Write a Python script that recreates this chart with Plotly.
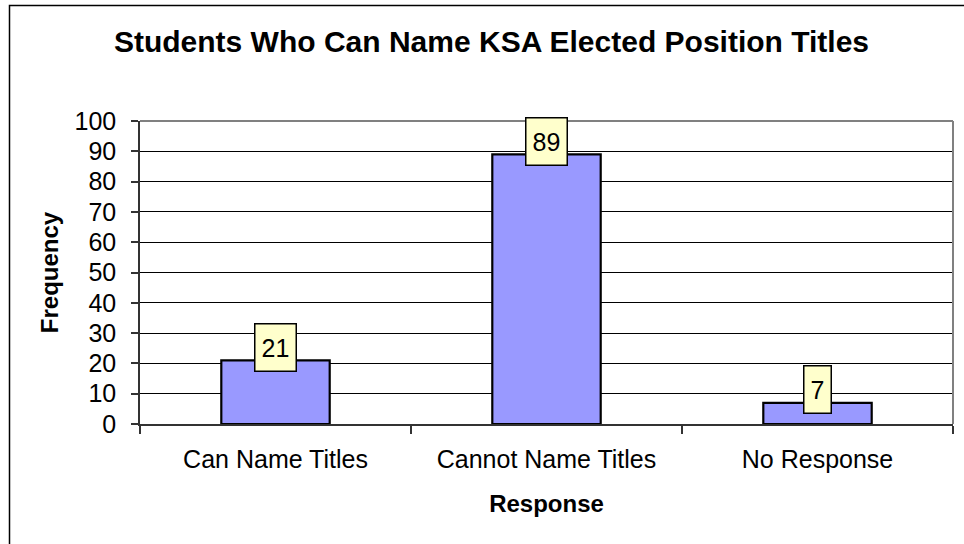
import plotly.graph_objects as go

categories = ["Can Name Titles", "Cannot Name Titles", "No Response"]
frequency = [21, 89, 7]
y_ticks = [0, 10, 20, 30, 40, 50, 60, 70, 80, 90, 100]

FONT = "Liberation Sans, Arial, sans-serif"
W, H = 964, 544
L, R, T, B = 140, 11, 121, 120
pw, ph = W - L - R, H - T - B

fig = go.Figure()
fig.add_trace(go.Bar(
    x=categories, y=frequency, width=0.4,
    marker=dict(color="#9999FF", line=dict(color="black", width=2.2)),
    hoverinfo="x+y",
))

for c, v in zip(categories, frequency):
    s = str(v)
    fig.add_annotation(
        x=c, y=v, xref="x", yref="y", text=s, showarrow=False,
        yshift=13, yanchor="middle",
        font=dict(family=FONT, size=25, color="black"),
        bgcolor="#FFFFCC", bordercolor="black", borderwidth=1.5,
        borderpad=4, width=14 * len(s) + 4, height=38,
    )

def px_to_paper_x(p):
    return (p - L) / pw

def px_to_paper_y(p):
    return (T + ph - p) / ph

# outer chart border (extends past the right and bottom edges of the picture)
fig.add_shape(type="rect", xref="paper", yref="paper",
              x0=px_to_paper_x(9.5), x1=px_to_paper_x(990),
              y0=px_to_paper_y(570), y1=px_to_paper_y(5.5),
              line=dict(color="black", width=1.5), layer="below")
# plot-area border (top and right, gray)
fig.add_shape(type="line", xref="paper", yref="paper", x0=0, x1=1, y0=1, y1=1,
              line=dict(color="#808080", width=2), layer="above")
fig.add_shape(type="line", xref="paper", yref="paper", x0=1, x1=1, y0=0, y1=1,
              line=dict(color="#808080", width=2), layer="above")

fig.update_layout(
    width=W, height=H,
    margin=dict(l=L, r=R, t=T, b=B, pad=0),
    paper_bgcolor="white", plot_bgcolor="white",
    showlegend=False,
    font=dict(family=FONT, size=25, color="black"),
    title=dict(
        text="<b>Students Who Can Name KSA Elected Position Titles</b>",
        font=dict(family=FONT, size=30, color="black"),
        x=491.5 / W, xref="container", xanchor="center",
        y=1 - 41 / H, yref="container", yanchor="middle",
    ),
    bargap=0.6,
)

fig.update_xaxes(
    type="category", tickson="boundaries", ticks="outside", ticklen=8,
    tickcolor="#333333", tickwidth=1.5,
    showline=True, linecolor="#333333", linewidth=1.5,
    showgrid=False, ticklabelstandoff=12,
    tickfont=dict(family=FONT, size=25, color="black"),
    title=dict(text="<b>Response</b>", font=dict(family=FONT, size=24, color="black"),
               standoff=23),
)
fig.update_yaxes(
    range=[0, 100], tickvals=y_ticks, ticks="outside", ticklen=7,
    tickcolor="#333333", tickwidth=1.5,
    showline=True, linecolor="#333333", linewidth=1.5,
    showgrid=True, gridcolor="black", gridwidth=1,
    zeroline=False, ticklabelstandoff=10,
    tickfont=dict(family=FONT, size=25, color="black"),
    title=dict(text="<b>Frequency</b>", font=dict(family=FONT, size=24, color="black"),
               standoff=9),
)

fig.write_html(
    "out.html",
    config={"displayModeBar": False},
    post_script="document.body.style.margin='0';document.body.style.overflow='hidden';",
)
